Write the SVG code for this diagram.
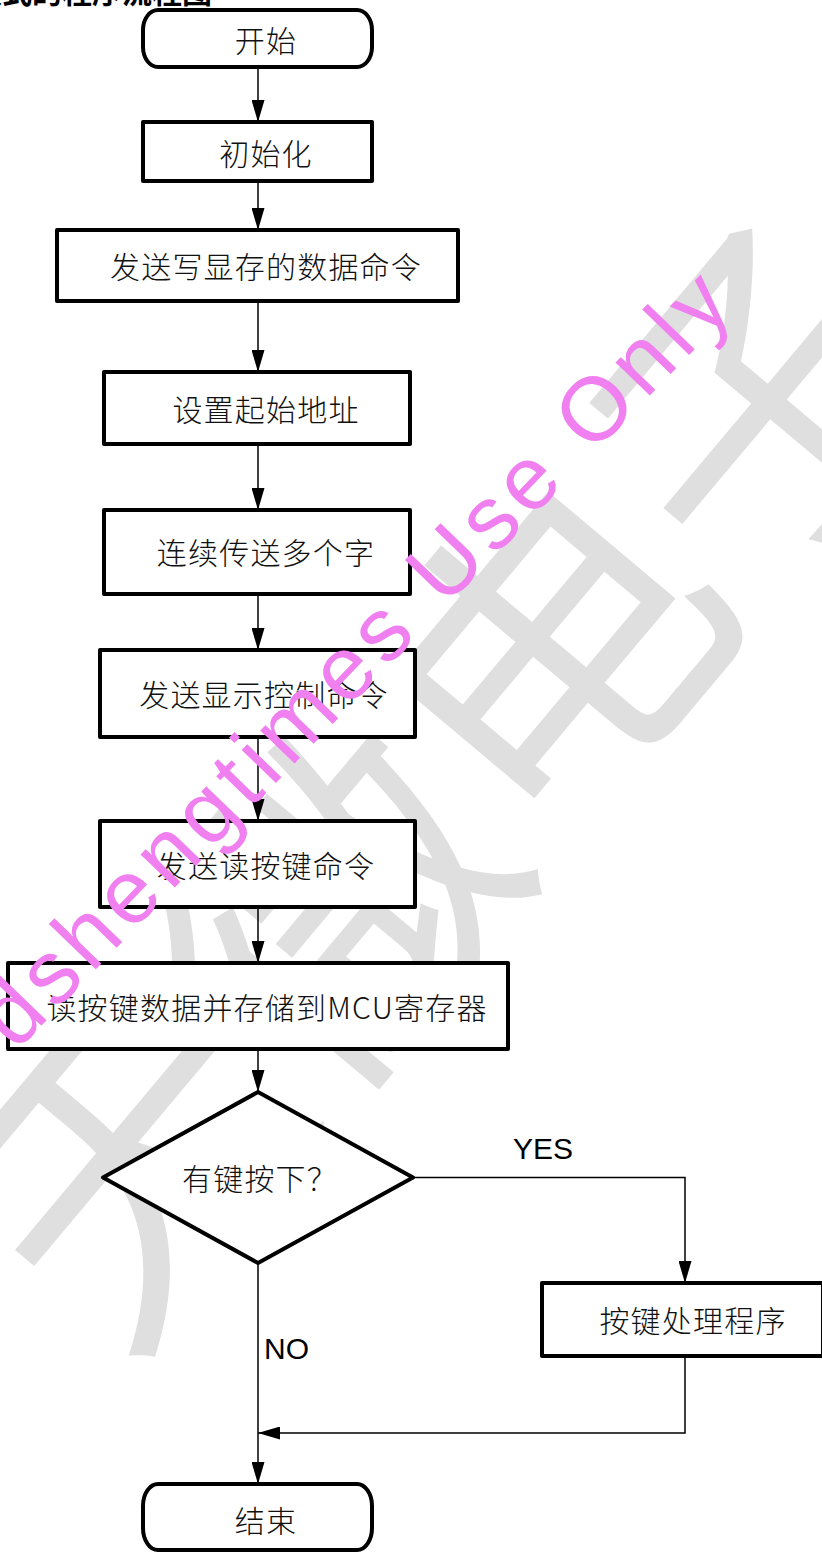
<svg xmlns="http://www.w3.org/2000/svg" width="822" height="1552" viewBox="0 0 822 1552">
<defs>
<marker id="arr" markerUnits="userSpaceOnUse" markerWidth="22" markerHeight="13" refX="22" refY="6.5" orient="auto"><path d="M0,0 L22,6.5 L0,13 Z" fill="#000"/></marker>
<style>
.box{fill:#fff;stroke:#000;stroke-width:4;stroke-linejoin:round}
.lbl{font-family:"Noto Sans CJK SC",sans-serif;font-size:30px;font-weight:300;letter-spacing:1.2px;fill:#111;text-anchor:middle;dominant-baseline:central}
.en{font-family:"Liberation Sans",Arial,sans-serif;font-size:30px;fill:#000}
.conn{fill:none;stroke:#000;stroke-width:1.5}
</style>
</defs>
<rect width="822" height="1552" fill="#fff"/>
<g id="watermark-gray">
<text transform="translate(430 765) rotate(-50)" x="0" y="0" font-family="'Noto Sans CJK SC',sans-serif" font-size="330" fill="#dfdfdf" text-anchor="middle" dominant-baseline="central">天微电子</text>
</g>
<g id="title">
<text x="212" y="3" text-anchor="end" font-family="'Noto Sans CJK SC',sans-serif" font-weight="bold" font-size="30" fill="#000">模式的程序流程图</text>
</g>
<g id="connectors">
<path class="conn" d="M258,68 V122" marker-end="url(#arr)"/>
<path class="conn" d="M258,181 V230" marker-end="url(#arr)"/>
<path class="conn" d="M258,301 V372" marker-end="url(#arr)"/>
<path class="conn" d="M258,444 V510" marker-end="url(#arr)"/>
<path class="conn" d="M258,594 V650" marker-end="url(#arr)"/>
<path class="conn" d="M258,737 V821" marker-end="url(#arr)"/>
<path class="conn" d="M258,907 V963" marker-end="url(#arr)"/>
<path class="conn" d="M258,1049 V1092" marker-end="url(#arr)"/>
<path class="conn" d="M413,1177.5 H685 V1283" marker-end="url(#arr)"/>
<path class="conn" d="M685,1356 V1433 H258" marker-end="url(#arr)"/>
<path class="conn" d="M258,1263 V1484" marker-end="url(#arr)"/>
<text class="en" x="513" y="1159">YES</text>
<text class="en" x="264" y="1359">NO</text>
</g>
<g id="start"><rect class="box" x="143" y="10" width="229" height="57" rx="15" ry="20"/><text class="lbl" x="266" y="39">开始</text></g>
<g id="init"><rect class="box" x="143" y="122" width="229" height="59"/><text class="lbl" x="266" y="151.5">初始化</text></g>
<g id="send-write"><rect class="box" x="57" y="230" width="401" height="71"/><text class="lbl" x="266" y="265">发送写显存的数据命令</text></g>
<g id="set-addr"><rect class="box" x="104" y="372" width="306" height="72"/><text class="lbl" x="266" y="408">设置起始地址</text></g>
<g id="send-bytes"><rect class="box" x="104" y="510" width="306" height="84"/><text class="lbl" x="266" y="551">连续传送多个字</text></g>
<g id="send-display"><rect class="box" x="100" y="650" width="315" height="87"/><text class="lbl" x="264" y="693">发送显示控制命令</text></g>
<g id="send-read"><rect class="box" x="100" y="821" width="315" height="86"/><text class="lbl" x="266" y="864">发送读按键命令</text></g>
<g id="read-keys"><rect class="box" x="8" y="963" width="500" height="86"/><text class="lbl" x="267" y="1006">读按键数据并存储到MCU寄存器</text></g>
<g id="decision"><polygon class="box" points="258,1092 413,1177.5 258,1263 103,1177.5"/><text class="lbl" x="260" y="1177">有键按下？</text></g>
<g id="key-handler"><rect class="box" x="542" y="1283" width="281" height="73"/><text class="lbl" x="693" y="1319">按键处理程序</text></g>
<g id="end"><rect class="box" x="143" y="1484" width="229" height="66" rx="15" ry="22"/><text class="lbl" x="266" y="1519">结束</text></g>
<g id="watermark-pink">
<text transform="translate(16 1052) rotate(-46)" x="0" y="0" textLength="1035" lengthAdjust="spacing" font-family="'Liberation Sans',Arial,sans-serif" font-size="90" fill="#f080f0">dshengtimes Use Only</text>
</g>
</svg>
